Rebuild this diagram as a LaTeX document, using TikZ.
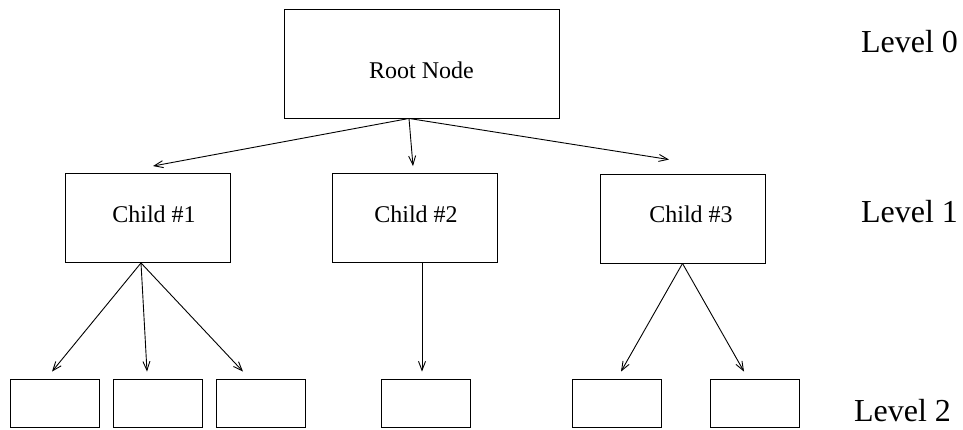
\documentclass[tikz,border=0pt]{standalone}
\usepackage{fontspec}
\setmainfont{Liberation Serif}
\usetikzlibrary{arrows.meta}

\begin{document}
\begin{tikzpicture}[x=1pt, y=-1pt, line width=0.9pt, >={Straight Barb[length=9pt, width=7pt]}]
        \tikzset{box/.style={draw, rectangle, inner sep=0pt, font=\fontsize{24}{28}\selectfont},
                 leaf/.style={draw, rectangle, inner sep=0pt, minimum width=89pt, minimum height=48pt},
                 level/.style={inner sep=0pt, font=\fontsize{32}{38}\selectfont}}
        \useasboundingbox (0,0) rectangle (963,429);

        % Cajas
        \node[box, minimum width=275pt, minimum height=109pt, text height=30pt, text depth=0pt] (root) at (421.5,63.5) {Root Node};
        \node[box, minimum width=165pt, minimum height=89pt, text height=16pt, text depth=8pt] (c1) at (147.5,218) {\hspace*{13pt}Child \#1};
        \node[box, minimum width=165pt, minimum height=89pt, text height=16pt, text depth=8pt] (c2) at (414.5,218) {\hspace*{3pt}Child \#2};
        \node[box, minimum width=165pt, minimum height=89pt, text height=16pt, text depth=8pt] (c3) at (682.5,218.5) {\hspace*{17pt}Child \#3};

        \node[leaf] (l11) at (54.5,403) {};
        \node[leaf] (l12) at (157.5,403) {};
        \node[leaf] (l13) at (260.5,403) {};
        \node[leaf] (l21) at (425.5,403) {};
        \node[leaf] (l31) at (617,403) {};
        \node[leaf] (l32) at (754.5,403) {};

        % Niveles
        \node[level] (lv0) at (909.5,42) {Level 0};
        \node[level] (lv1) at (909.5,212) {Level 1};
        \node[level] (lv2) at (902.5,411) {Level 2};

        % Flechas
        \path[->]
            ([xshift=-12.5pt]root.south) edge ([xshift=5.5pt, yshift=7pt]c1.north)
            ([xshift=-12.5pt]root.south) edge ([xshift=-1.5pt, yshift=7pt]c2.north)
            ([xshift=-12.5pt]root.south) edge ([xshift=-13.5pt, yshift=14pt]c3.north)
            ([xshift=-6.5pt]c1.south) edge ([xshift=-2.5pt, yshift=7pt]l11.north)
            ([xshift=-6.5pt]c1.south) edge ([xshift=-10.5pt, yshift=7pt]l12.north)
            ([xshift=-6.5pt]c1.south) edge ([xshift=-17.5pt, yshift=7pt]l13.north)
            ([xshift=7.5pt]c2.south) edge ([xshift=-3.5pt, yshift=7pt]l21.north)
            (c3.south) edge ([xshift=4pt, yshift=7pt]l31.north)
            (c3.south) edge ([xshift=-10.5pt, yshift=7pt]l32.north);
\end{tikzpicture}
\end{document}
